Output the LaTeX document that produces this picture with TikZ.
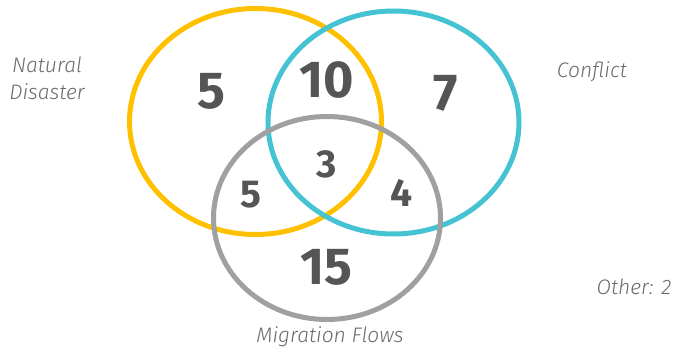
\documentclass[tikz,border=0pt]{standalone}
\usepackage{fontspec}
\setmainfont{Fira Sans}
\newfontfamily\numfont{Fira Sans}[UprightFont=* Bold]
\newfontfamily\labfont{Fira Sans}[UprightFont=* Light, ItalicFont=* Light Italic]
\definecolor{cyel}{HTML}{FFC000}
\definecolor{cteal}{HTML}{45C3D2}
\definecolor{cgray}{HTML}{A0A0A0}
\definecolor{cnum}{HTML}{555555}
\definecolor{clab}{HTML}{6A6A6A}
\tikzset{
  ring/.style={line width=5pt},
  bignum/.style={text=cnum, font=\numfont\fontsize{52}{52}\selectfont, inner sep=0pt},
  smallnum/.style={text=cnum, font=\numfont\fontsize{39}{39}\selectfont, inner sep=0pt},
  lab/.style={text=clab, font=\labfont\itshape\fontsize{21}{27}\selectfont, inner sep=0pt, align=center}
}
\begin{document}
\begin{tikzpicture}[x=1pt,y=-1pt]
\useasboundingbox (0,0) rectangle (673,353);
\draw[ring, cyel] (255.5,121.5) ellipse [x radius=126, y radius=113];
\draw[ring, cteal] (393.5,122.5) ellipse [x radius=125.5, y radius=111.5];
\draw[ring, cgray] (327,218) ellipse [x radius=113.5, y radius=101.5];
\node[bignum] (n5) at (211.5,91.5) {5};
\node[bignum] (n10) at (326.8,79.7) {10};
\node[bignum] (n7) at (445.4,93) {7};
\node[smallnum] (n3) at (326.8,164) {3};
\node[smallnum] (n5b) at (250.5,195) {5};
\node[smallnum] (n4) at (401.4,193) {4};
\node[bignum] (n15) at (326.8,267.8) {15};
\node[lab] (nat) at (47,78) {Natural\\Disaster};
\node[lab] (con) at (592,72) {Conflict};
\node[lab] (oth) at (634,287) {Other: 2};
\node[lab] (mig) at (330,337) {Migration Flows};
\end{tikzpicture}
\end{document}
